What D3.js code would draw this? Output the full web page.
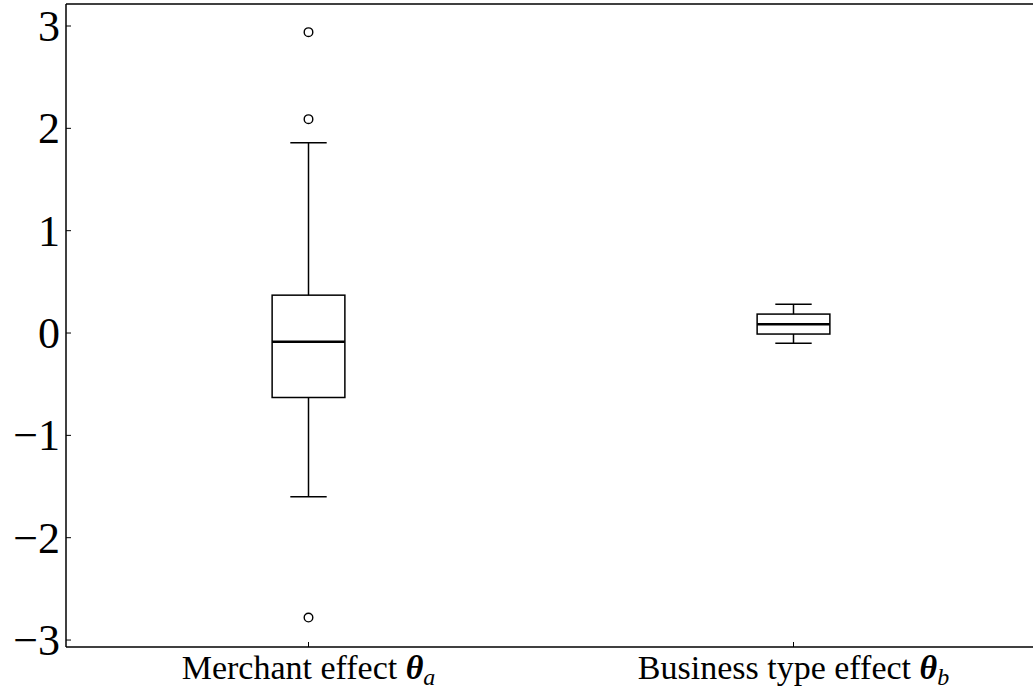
<!DOCTYPE html>
<html>
<head>
<meta charset="utf-8">
<script src="https://cdn.jsdelivr.net/npm/d3@7"></script>
<style>
  body { margin: 0; background: white; }
  svg { display: block; }
</style>
</head>
<body>
<div id="chart-area"></div>
<script>
// box stats
var categories = ["merchant", "business"];
var positions = [1, 2];
var whiskerLow = [-1.60, -0.10];
var q1 = [-0.63, -0.01];
var median = [-0.085, 0.085];
var q3 = [0.37, 0.185];
var whiskerHigh = [1.86, 0.28];
var outliers = [[2.94, 2.09, -2.78], []];
var yTicks = [-3, -2, -1, 0, 1, 2, 3];

var width = 1033, height = 691;
var svg = d3.select("#chart-area").append("svg")
  .attr("width", width)
  .attr("height", height);

var plotLeft = 66, plotTop = 4, plotBottom = 647;

// axes run past the right edge of the picture (cropped figure)
var x = d3.scaleLinear().domain([0.5, 2.5]).range([plotLeft, plotLeft + 2 * 485]);
var y = d3.scaleLinear().domain([-3.068, 3.215]).range([plotBottom, plotTop]);

var boxW = 0.15 * 485;
var capW = boxW / 2;

// frame
svg.append("line").attr("x1", plotLeft).attr("x2", width).attr("y1", plotTop).attr("y2", plotTop)
  .attr("stroke", "black").attr("stroke-width", 1.5);
svg.append("line").attr("x1", plotLeft).attr("x2", width).attr("y1", plotBottom).attr("y2", plotBottom)
  .attr("stroke", "black").attr("stroke-width", 1.5);
svg.append("line").attr("x1", plotLeft).attr("x2", plotLeft).attr("y1", plotTop).attr("y2", plotBottom)
  .attr("stroke", "black").attr("stroke-width", 1.5);

// y ticks (inside)
var yAxis = svg.append("g");
yTicks.forEach(function(t) {
  yAxis.append("line")
    .attr("x1", plotLeft).attr("x2", plotLeft + 5)
    .attr("y1", y(t)).attr("y2", y(t))
    .attr("stroke", "black").attr("stroke-width", 1);
  yAxis.append("text")
    .attr("x", plotLeft - 6)
    .attr("y", y(t) + 15)
    .attr("text-anchor", "end")
    .attr("font-family", "'Liberation Serif', 'DejaVu Serif', serif")
    .attr("font-size", 44)
    .text(t < 0 ? "\u2212" + Math.abs(t) : t);
});

// x ticks
positions.forEach(function(p) {
  svg.append("line")
    .attr("x1", x(p)).attr("x2", x(p))
    .attr("y1", plotBottom).attr("y2", plotBottom - 5)
    .attr("stroke", "black").attr("stroke-width", 1);
});

// x labels
var labelFont = "'Liberation Serif', 'DejaVu Serif', serif";
var labels = [["Merchant effect ", "a"], ["Business type effect ", "b"]];
labels.forEach(function(l, i) {
  var t = svg.append("text")
    .attr("x", x(positions[i]))
    .attr("y", 679)
    .attr("text-anchor", "middle")
    .attr("font-family", labelFont)
    .attr("font-size", 34);
  t.append("tspan").text(l[0]);
  t.append("tspan").attr("font-weight", "bold").attr("font-style", "italic").text("\u03b8");
  t.append("tspan").attr("font-style", "italic").attr("font-size", 24).attr("dy", 6).text(l[1]);
});

// boxes
var boxes = svg.selectAll("g.box").data(categories).enter().append("g").attr("class", "box");

boxes.append("line")
  .attr("x1", (d, i) => x(positions[i])).attr("x2", (d, i) => x(positions[i]))
  .attr("y1", (d, i) => y(q3[i])).attr("y2", (d, i) => y(whiskerHigh[i]))
  .attr("stroke", "black").attr("stroke-width", 1.5);
boxes.append("line")
  .attr("x1", (d, i) => x(positions[i])).attr("x2", (d, i) => x(positions[i]))
  .attr("y1", (d, i) => y(q1[i])).attr("y2", (d, i) => y(whiskerLow[i]))
  .attr("stroke", "black").attr("stroke-width", 1.5);
boxes.append("line")
  .attr("x1", (d, i) => x(positions[i]) - capW / 2).attr("x2", (d, i) => x(positions[i]) + capW / 2)
  .attr("y1", (d, i) => y(whiskerHigh[i])).attr("y2", (d, i) => y(whiskerHigh[i]))
  .attr("stroke", "black").attr("stroke-width", 1.5);
boxes.append("line")
  .attr("x1", (d, i) => x(positions[i]) - capW / 2).attr("x2", (d, i) => x(positions[i]) + capW / 2)
  .attr("y1", (d, i) => y(whiskerLow[i])).attr("y2", (d, i) => y(whiskerLow[i]))
  .attr("stroke", "black").attr("stroke-width", 1.5);
boxes.append("rect")
  .attr("x", (d, i) => x(positions[i]) - boxW / 2)
  .attr("y", (d, i) => y(q3[i]))
  .attr("width", boxW)
  .attr("height", (d, i) => y(q1[i]) - y(q3[i]))
  .attr("fill", "none").attr("stroke", "black").attr("stroke-width", 1.5);
boxes.append("line")
  .attr("x1", (d, i) => x(positions[i]) - boxW / 2).attr("x2", (d, i) => x(positions[i]) + boxW / 2)
  .attr("y1", (d, i) => y(median[i])).attr("y2", (d, i) => y(median[i]))
  .attr("stroke", "black").attr("stroke-width", 2.5);

boxes.each(function(d, i) {
  d3.select(this).selectAll("circle").data(outliers[i]).enter().append("circle")
    .attr("cx", x(positions[i]))
    .attr("cy", v => y(v))
    .attr("r", 4.3)
    .attr("fill", "white").attr("stroke", "black").attr("stroke-width", 1.4);
});
</script>
</body>
</html>
